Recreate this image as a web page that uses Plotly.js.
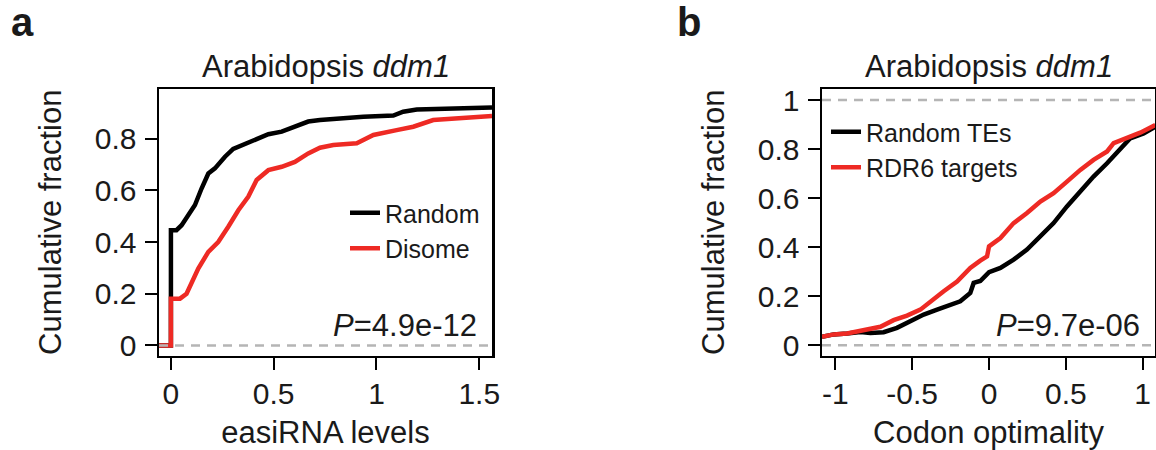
<!DOCTYPE html>
<html>
<head>
<meta charset="utf-8">
<script src="https://cdn.plot.ly/plotly-3.0.1.min.js"></script>
<style>html,body{margin:0;padding:0;background:#fff;}#chart{width:1156px;height:450px;}</style>
</head>
<body>
<div id="chart"></div>
<script>
// ---- Panel a: easiRNA levels (ECDF) ----
const aRandomX = [-0.058, 0, 0, 0.027, 0.052, 0.084, 0.117, 0.149, 0.182, 0.214, 0.263, 0.303, 0.36, 0.409, 0.474, 0.539, 0.603, 0.668, 0.725, 0.822, 0.936, 1.082, 1.13, 1.196, 1.406, 1.562];
const aRandomY = [0, 0, 0.446, 0.446, 0.465, 0.504, 0.543, 0.607, 0.665, 0.685, 0.73, 0.76, 0.778, 0.795, 0.817, 0.827, 0.846, 0.866, 0.872, 0.879, 0.885, 0.889, 0.904, 0.913, 0.915, 0.92];
const aDisomeX = [-0.058, 0, 0, 0.044, 0.076, 0.1, 0.133, 0.182, 0.23, 0.279, 0.328, 0.376, 0.417, 0.474, 0.539, 0.603, 0.668, 0.725, 0.79, 0.904, 0.985, 1.098, 1.179, 1.276, 1.406, 1.562];
const aDisomeY = [0, 0, 0.181, 0.181, 0.2, 0.245, 0.297, 0.362, 0.4, 0.459, 0.523, 0.575, 0.64, 0.678, 0.691, 0.71, 0.743, 0.765, 0.775, 0.782, 0.814, 0.833, 0.846, 0.872, 0.881, 0.888];

// ---- Panel b: codon optimality (ECDF) ----
const bRandomX = [-1.087, -1.011, -0.924, -0.837, -0.772, -0.686, -0.599, -0.512, -0.425, -0.338, -0.252, -0.187, -0.122, -0.1, -0.057, -0.035, 0, 0.074, 0.16, 0.247, 0.334, 0.42, 0.507, 0.594, 0.68, 0.768, 0.854, 0.919, 1.006, 1.082];
const bRandomY = [0.034, 0.044, 0.048, 0.054, 0.05, 0.053, 0.071, 0.098, 0.125, 0.145, 0.162, 0.179, 0.213, 0.254, 0.262, 0.274, 0.298, 0.315, 0.349, 0.39, 0.444, 0.498, 0.566, 0.627, 0.688, 0.742, 0.803, 0.844, 0.864, 0.891];
const bRdr6X = [-1.087, -1.011, -0.924, -0.837, -0.707, -0.621, -0.534, -0.447, -0.382, -0.295, -0.208, -0.122, -0.057, -0.013, 0, 0.074, 0.16, 0.247, 0.334, 0.42, 0.507, 0.594, 0.68, 0.768, 0.811, 0.898, 0.984, 1.082];
const bRdr6Y = [0.034, 0.044, 0.048, 0.057, 0.075, 0.102, 0.121, 0.145, 0.179, 0.22, 0.26, 0.315, 0.345, 0.362, 0.403, 0.437, 0.498, 0.539, 0.586, 0.62, 0.667, 0.715, 0.756, 0.79, 0.824, 0.844, 0.867, 0.898];

// ---- Tick labels ----
const aXTickVals = [0, 0.5, 1, 1.5];
const aXTickText = ["0", "0.5", "1", "1.5"];
const aYTickVals = [0, 0.2, 0.4, 0.6, 0.8];
const aYTickText = ["0", "0.2", "0.4", "0.6", "0.8"];
const bXTickVals = [-1, -0.5, 0, 0.5, 1];
const bXTickText = ["-1", "-0.5", "0", "0.5", "1"];
const bYTickVals = [0, 0.2, 0.4, 0.6, 0.8, 1];
const bYTickText = ["0", "0.2", "0.4", "0.6", "0.8", "1"];

const FONT = "Liberation Sans, Arial, Helvetica, sans-serif";
const BLACK = "#000000";
const RED = "#ee2a24";
const TEXT = "#1a1a1a";

const traces = [
  {x: aRandomX, y: aRandomY, xaxis: "x", yaxis: "y", type: "scatter", mode: "lines", name: "Random",
   line: {color: BLACK, width: 4.5}, legend: "legend", legendgroup: "ar"},
  {x: aDisomeX, y: aDisomeY, xaxis: "x", yaxis: "y", type: "scatter", mode: "lines", name: "Disome",
   line: {color: RED, width: 4.5}, legend: "legend", legendgroup: "ad"},
  {x: bRandomX, y: bRandomY, xaxis: "x2", yaxis: "y2", type: "scatter", mode: "lines", name: "Random TEs",
   line: {color: BLACK, width: 4.5}, legend: "legend2", legendgroup: "br"},
  {x: bRdr6X, y: bRdr6Y, xaxis: "x2", yaxis: "y2", type: "scatter", mode: "lines", name: "RDR6 targets",
   line: {color: RED, width: 4.5}, legend: "legend2", legendgroup: "bd"}
];

const axisCommon = {
  showline: true, mirror: true, linecolor: BLACK, linewidth: 2.5,
  ticks: "outside", ticklen: 12, tickwidth: 2, tickcolor: BLACK,
  showgrid: false, zeroline: false, fixedrange: true,
  tickfont: {family: FONT, size: 30, color: TEXT}
};

const yDomain = [1 - 355.5 / 450, 1 - 89 / 450];

const layout = {
  width: 1156, height: 450, autosize: false,
  margin: {l: 0, r: 0, t: 0, b: 0},
  paper_bgcolor: "#ffffff", plot_bgcolor: "#ffffff",
  font: {family: FONT, color: TEXT},
  xaxis: Object.assign({}, axisCommon, {
    domain: [159 / 1156, 492 / 1156], range: [-0.058, 1.562], anchor: "y",
    tickvals: aXTickVals, ticktext: aXTickText, ticklabelstandoff: -2,
    title: {text: "easiRNA levels", font: {family: FONT, size: 31, color: TEXT}, standoff: 15}
  }),
  yaxis: Object.assign({}, axisCommon, {
    domain: yDomain, range: [-0.039, 0.992], anchor: "x",
    tickvals: aYTickVals, ticktext: aYTickText, ticklabelstandoff: 2,
    title: {text: "Cumulative fraction", font: {family: FONT, size: 31, color: TEXT}, standoff: 24}
  }),
  xaxis2: Object.assign({}, axisCommon, {
    domain: [822 / 1156, 1155 / 1156], range: [-1.087, 1.08], anchor: "y2",
    tickvals: bXTickVals, ticktext: bXTickText, ticklabelstandoff: -2,
    title: {text: "Codon optimality", font: {family: FONT, size: 31, color: TEXT}, standoff: 15}
  }),
  yaxis2: Object.assign({}, axisCommon, {
    domain: yDomain, range: [-0.042, 1.045], anchor: "x2",
    tickvals: bYTickVals, ticktext: bYTickText, ticklabelstandoff: 2,
    title: {text: "Cumulative fraction", font: {family: FONT, size: 31, color: TEXT}, standoff: 24}
  }),
  legend: {
    x: 345 / 1156, xanchor: "left", y: 1 - 190 / 450, yanchor: "top",
    bgcolor: "rgba(0,0,0,0)", borderwidth: 0, tracegroupgap: 0,
    font: {family: FONT, size: 25, color: TEXT}
  },
  legend2: {
    x: 826 / 1156, xanchor: "left", y: 1 - 109 / 450, yanchor: "top",
    bgcolor: "rgba(0,0,0,0)", borderwidth: 0, tracegroupgap: 0,
    font: {family: FONT, size: 25, color: TEXT}
  },
  shapes: [
    {type: "line", xref: "x domain", x0: 0, x1: 1, yref: "y", y0: 0, y1: 0, layer: "above",
     line: {color: "#b5b5b5", width: 2.5, dash: "9px,7px"}},
    {type: "line", xref: "x2 domain", x0: 0, x1: 1, yref: "y2", y0: 0, y1: 0, layer: "above",
     line: {color: "#b5b5b5", width: 2.5, dash: "9px,7px"}},
    {type: "line", xref: "x2 domain", x0: 0, x1: 1, yref: "y2", y0: 1, y1: 1, layer: "above",
     line: {color: "#b5b5b5", width: 2.5, dash: "9px,7px"}}
  ],
  annotations: [
    {text: "Arabidopsis <i>ddm1</i>", xref: "x domain", x: 0.5, xanchor: "center", yref: "paper", y: 1 - 67 / 450, yanchor: "middle",
     showarrow: false, font: {family: FONT, size: 31, color: TEXT}},
    {text: "Arabidopsis <i>ddm1</i>", xref: "x2 domain", x: 0.5, xanchor: "center", yref: "paper", y: 1 - 67 / 450, yanchor: "middle",
     showarrow: false, font: {family: FONT, size: 31, color: TEXT}},
    {text: "<i>P</i>=4.9e-12", xref: "paper", x: 479 / 1156, xanchor: "right", yref: "paper", y: 1 - 325 / 450, yanchor: "middle",
     showarrow: false, font: {family: FONT, size: 31, color: TEXT}},
    {text: "<i>P</i>=9.7e-06", xref: "paper", x: 1142 / 1156, xanchor: "right", yref: "paper", y: 1 - 325 / 450, yanchor: "middle",
     showarrow: false, font: {family: FONT, size: 31, color: TEXT}},
    {text: "<b>a</b>", xref: "paper", x: 9 / 1156, xanchor: "left", yref: "paper", y: 1 - 22 / 450, yanchor: "middle",
     showarrow: false, font: {family: FONT, size: 40, color: TEXT}},
    {text: "<b>b</b>", xref: "paper", x: 675 / 1156, xanchor: "left", yref: "paper", y: 1 - 22 / 450, yanchor: "middle",
     showarrow: false, font: {family: FONT, size: 40, color: TEXT}}
  ],
  showlegend: true
};

Plotly.newPlot("chart", traces, layout, {staticPlot: true, displayModeBar: false});
</script>
</body>
</html>
